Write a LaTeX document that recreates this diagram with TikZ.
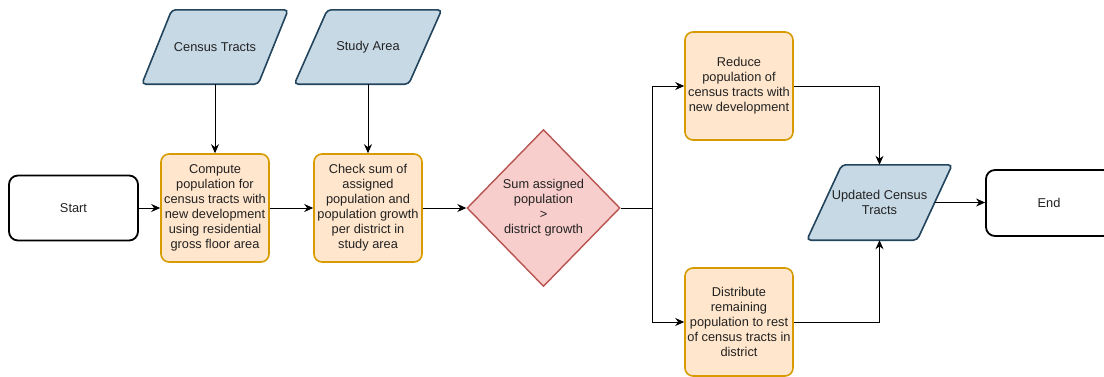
\documentclass[tikz,border=0pt]{standalone}
\usepackage{fontspec}
\setmainfont{Liberation Sans}
\usetikzlibrary{shapes.geometric,arrows.meta,backgrounds}
\definecolor{procfill}{HTML}{FFE6CC}
\definecolor{procdraw}{HTML}{D79B00}
\definecolor{datafill}{HTML}{C8D9E6}
\definecolor{datadraw}{HTML}{23445D}
\definecolor{decfill}{HTML}{F8CECC}
\definecolor{decdraw}{HTML}{B85450}
\definecolor{txt}{HTML}{222222}
\tikzset{
  terminal/.style={draw=black, line width=1.8pt, rounded corners=9pt, fill=white,
    minimum width=129pt, minimum height=65pt, inner sep=0pt},
  process/.style={draw=procdraw, fill=procfill, line width=1.6pt, rounded corners=8pt,
    minimum width=108pt, minimum height=108pt, inner sep=0pt, align=center},
  databox/.style={inner sep=0pt, align=center},
  datashape/.style={draw=datadraw, fill=datafill, line width=1.6pt, rounded corners=4pt},
  decision/.style={diamond, draw=decdraw, fill=decfill, line width=1.4pt,
    minimum width=153pt, minimum height=157pt, inner sep=0pt, align=center},
  flow/.style={draw=black, line width=1pt, -{Stealth[length=9pt,width=8pt]}},
  plain/.style={draw=black, line width=1pt}
}
% parallelogram behind a data node; #1 = node name, #2 = horizontal slant
\newcommand\dataframe[2]{%
  \begin{scope}[on background layer]
    \path[datashape] ([xshift=#2pt]#1.north west) -- (#1.north east)
      -- ([xshift=-#2pt]#1.south east) -- (#1.south west) -- cycle;
  \end{scope}}
\begin{document}
\begin{tikzpicture}[x=1pt, y=-1pt, font=\fontsize{12.8}{15}\selectfont, text=txt]
\useasboundingbox (0,0) rectangle (1104,376);
\clip (0,0) rectangle (1104,376);

% inputs
\node[databox, minimum width=146pt, minimum height=74pt] (ct) at (215,47) {Census Tracts};
\dataframe{ct}{30}
\node[databox, minimum width=147pt, minimum height=74pt] (sa) at (368,47) {Study Area};
\dataframe{sa}{33}

% main line
\node[terminal] (start) at (73.5,208) {Start};
\node[process] (comp) at (215,208) {Compute\\population for\\census tracts with\\new development\\using residential\\gross floor area};
\node[process] (check) at (368,208) {Check sum of\\assigned\\population and\\population growth\\per district in\\study area};
\node[decision] (dec) at (543.5,208) {Sum assigned\\population\\>\\district growth};

% branches
\coordinate (split) at (652,208);
\node[process] (red) at (739,86) {Reduce\\population of\\census tracts with\\new development};
\node[process] (dist) at (739,322) {Distribute\\remaining\\population to rest\\of census tracts in\\district};

% output
\node[databox, minimum width=145pt, minimum height=75pt] (upd) at (879.5,202.5) {Updated Census\\Tracts};
\dataframe{upd}{35}
\node[terminal, minimum width=126pt, minimum height=66pt] (end) at (1049,203) {End};

% connectors
\draw[flow] (comp.north |- ct.south) -- (comp.north);
\draw[flow] (check.north |- sa.south) -- (check.north);
\draw[flow] (start.east) -- (comp.west);
\draw[flow] (comp.east) -- (check.west);
\draw[flow] (check.east) -- (dec.west);
\draw[plain] (dec.east) -- (split);
\draw[flow] (split) |- (red.west);
\draw[flow] (split) |- (dist.west);
\draw[flow] (red.east) -| (upd.north);
\draw[flow] (dist.east) -| (upd.south);
\draw[flow] ([xshift=-17.5pt]upd.east) -- (end.west |- upd.east);
\end{tikzpicture}
\end{document}
